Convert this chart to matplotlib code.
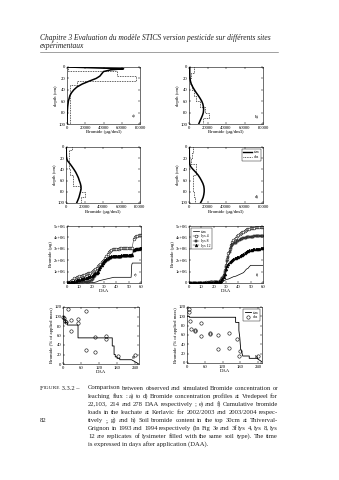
import numpy as np
import matplotlib.pyplot as plt
from matplotlib.lines import Line2D

plt.rcParams['font.family'] = ['Liberation Serif', 'DejaVu Serif']
plt.rcParams['xtick.direction'] = 'in'
plt.rcParams['ytick.direction'] = 'in'
plt.rcParams['xtick.top'] = True
plt.rcParams['ytick.right'] = True
plt.rcParams['xtick.major.size'] = 1.6
plt.rcParams['ytick.major.size'] = 1.6
plt.rcParams['xtick.major.width'] = 0.35
plt.rcParams['ytick.major.width'] = 0.35
plt.rcParams['xtick.major.pad'] = 1.2
plt.rcParams['ytick.major.pad'] = 1.2
plt.rcParams['axes.linewidth'] = 0.4
plt.rcParams['font.size'] = 3.4

W, H = 339, 480

# ---- Vredepeel profiles (22, 103, 214, 278 DAA) ----
depth_sim_a = [0, 2, 3, 5, 8, 12, 16, 20, 25, 30, 35, 40, 45, 50, 60, 70, 80, 90, 100]
conc_sim_a = [500, 40000, 62000, 48000, 40000, 38000, 36000, 32000, 24000, 16500, 11000, 7500, 5000, 3200, 1500, 700, 300, 150, 50]
edges_obs_a = [0, 7.5, 16, 24, 31, 100]
conc_obs_a = [1500, 54500, 76000, 11000, 3000]

depth_sim_b = [0, 10, 20, 25, 30, 35, 40, 45, 50, 55, 60, 65, 70, 75, 80, 85, 90, 95, 100]
conc_sim_b = [800, 800, 1000, 1600, 2500, 4000, 5800, 7800, 10000, 12000, 13800, 15000, 15600, 15800, 15500, 14500, 13200, 11800, 10500]
edges_obs_b = [0, 10, 20, 30, 40, 50, 60, 70, 80, 90, 100]
conc_obs_b = [5000, 2200, 1500, 3000, 5500, 8000, 11500, 17500, 22000, 15000]

depth_sim_c = [0, 10, 20, 25, 30, 35, 40, 45, 50, 55, 60, 65, 70, 75, 80, 85, 90, 95, 100]
conc_sim_c = [300, 300, 500, 1800, 4300, 6500, 8600, 10500, 12000, 13400, 14400, 15500, 16200, 16300, 15600, 14800, 14000, 12800, 11500]
edges_obs_c = [0, 5, 10, 20, 30, 40, 50, 60, 70, 80, 90, 100]
conc_obs_c = [7000, 2900, 2900, 2900, 3000, 4500, 7200, 7200, 15000, 20000, 16500]

depth_sim_d = [0, 10, 20, 30, 35, 40, 45, 50, 55, 60, 65, 70, 75, 80, 85, 90, 95, 100]
conc_sim_d = [300, 300, 400, 700, 1800, 4300, 7200, 9800, 11800, 13500, 15000, 16000, 16400, 16400, 16000, 15300, 14000, 12400]
edges_obs_d = [0, 10, 20, 30, 40, 50, 60, 70, 80, 90, 100]
conc_obs_d = [4500, 2800, 2500, 7200, 7200, 4500, 4300, 4300, 5000, 6000]

profile_xticks = [0, 20000, 40000, 60000, 80000]
profile_yticks = [0, 20, 40, 60, 80, 100]

# ---- Kerlavic cumulative loads (ug), daily from 0 to 60 DAA ----
daa_lys = list(range(61))
lys4_e = [0.0, 0.05, 0.1, 0.2, 0.25, 0.3, 0.4, 0.45, 0.5, 0.55,
          0.6, 0.62, 0.65, 0.68, 0.7, 0.75, 0.8, 0.85, 0.88, 0.9,
          0.95, 1.05, 1.15, 1.25, 1.35, 1.45, 1.55, 1.65, 1.8, 1.95,
          2.05, 2.2, 2.35, 2.55, 2.75, 2.85, 2.92, 2.97, 3.0, 3.0,
          3.01, 3.02, 3.02, 3.03, 3.03, 3.04, 3.05, 3.05, 3.06, 3.06,
          3.07, 3.07, 3.08, 3.1, 3.9, 4.05, 4.1, 4.15, 4.18, 4.2, 4.22]
lys8_e = [0.0, 0.0, 0.0, 0.01, 0.01, 0.02, 0.02, 0.03, 0.03, 0.04,
          0.04, 0.05, 0.05, 0.05, 0.06, 0.06, 0.07, 0.08, 0.1, 0.17,
          0.25, 0.37, 0.5, 0.65, 0.8, 0.97, 1.15, 1.32, 1.5, 1.63,
          1.75, 1.85, 1.95, 2.03, 2.1, 2.15, 2.2, 2.25, 2.28, 2.29,
          2.3, 2.31, 2.31, 2.32, 2.32, 2.33, 2.33, 2.34, 2.35, 2.35,
          2.36, 2.37, 2.38, 2.45, 2.8, 2.88, 2.93, 2.95, 2.97, 2.99, 3.0]
lys12_e = [0.0, 0.02, 0.05, 0.08, 0.1, 0.13, 0.17, 0.2, 0.24, 0.27,
           0.3, 0.33, 0.36, 0.39, 0.42, 0.45, 0.48, 0.52, 0.55, 0.58,
           0.6, 0.68, 0.76, 0.84, 0.92, 1.0, 1.2, 1.4, 1.6, 1.75,
           1.9, 2.02, 2.12, 2.2, 2.26, 2.31, 2.35, 2.37, 2.38, 2.39,
           2.4, 2.4, 2.41, 2.41, 2.42, 2.42, 2.43, 2.43, 2.44, 2.44,
           2.45, 2.45, 2.46, 2.5, 2.9, 2.95, 2.98, 3.0, 3.02, 3.04, 3.05]
sim_e_daa = [0, 18, 20, 22, 24, 26, 28, 30, 32, 34, 36, 38, 52, 52.5, 53, 60]
sim_e = [0.0, 0.0, 0.02, 0.05, 0.1, 0.2, 0.25, 0.3, 0.35, 0.4, 0.45, 0.5, 0.5, 1.6, 1.75, 1.75]

lys4_f = [0.0, 0.01, 0.01, 0.02, 0.02, 0.02, 0.03, 0.03, 0.03, 0.03,
          0.04, 0.04, 0.04, 0.04, 0.05, 0.05, 0.05, 0.05, 0.06, 0.06,
          0.06, 0.07, 0.07, 0.08, 0.1, 0.15, 0.3, 0.45, 0.7, 1.1,
          1.6, 2.1, 2.6, 3.0, 3.35, 3.6, 3.75, 3.85, 3.95, 4.1,
          4.2, 4.3, 4.4, 4.45, 4.5, 4.6, 4.65, 4.7, 4.75, 4.78,
          4.8, 4.82, 4.84, 4.86, 4.87, 4.88, 4.9, 4.91, 4.92, 4.94, 4.95]
lys8_f = [0.0, 0.0, 0.01, 0.01, 0.01, 0.02, 0.02, 0.02, 0.02, 0.03,
          0.03, 0.03, 0.03, 0.03, 0.04, 0.04, 0.04, 0.04, 0.05, 0.05,
          0.05, 0.05, 0.06, 0.07, 0.08, 0.12, 0.25, 0.4, 0.6, 0.95,
          1.4, 1.9, 2.3, 2.7, 3.05, 3.3, 3.4, 3.5, 3.55, 3.65,
          3.7, 3.78, 3.82, 3.88, 3.92, 3.95, 3.98, 4.0, 4.02, 4.03,
          4.05, 4.06, 4.07, 4.08, 4.08, 4.09, 4.1, 4.1, 4.11, 4.11, 4.12]
lys12_f = [0.0, 0.0, 0.0, 0.01, 0.01, 0.01, 0.01, 0.02, 0.02, 0.02,
           0.02, 0.02, 0.03, 0.03, 0.03, 0.03, 0.03, 0.04, 0.04, 0.04,
           0.04, 0.05, 0.05, 0.06, 0.07, 0.1, 0.2, 0.35, 0.5, 0.8,
           1.2, 1.5, 1.7, 1.85, 1.95, 2.05, 2.12, 2.18, 2.22, 2.27,
           2.3, 2.35, 2.42, 2.5, 2.58, 2.66, 2.72, 2.78, 2.83, 2.87,
           2.9, 2.93, 2.95, 2.97, 2.98, 3.0, 3.01, 3.02, 3.03, 3.04, 3.05]
sim_f_daa = [0, 25, 26, 28, 30, 32, 34, 36, 38, 40, 42, 44, 45, 46, 47, 48, 49, 50, 60]
sim_f = [0.0, 0.0, 0.05, 0.15, 0.3, 0.35, 0.45, 0.55, 0.6, 0.7, 0.8, 0.9, 1.0, 1.15, 1.25, 1.3, 1.45, 1.55, 1.55]

load_yticks = [0, 1e6, 2e6, 3e6, 4e6, 5e6]
load_yticklabels = ['0', '1e+06', '2e+06', '3e+06', '4e+06', '5e+06']
load_xticks = [0, 10, 20, 30, 40, 50, 60]

# ---- Thiverval-Grignon soil content (% of applied mass) ----
sim_g_daa = [0, 3, 3, 8, 8, 15, 15, 50, 50, 164, 164, 170, 170, 174, 174, 180, 180, 189, 189, 228, 250]
sim_g = [100, 100, 93, 93, 87, 87, 82, 82, 55, 55, 38, 38, 20, 20, 15, 15, 12, 12, 9, 9, 1]
obs_g_daa = [0, 3, 5, 11, 17, 28, 28, 50, 50, 75, 75, 105, 105, 142, 142, 183, 239]
obs_g = [100, 97, 91, 88, 116, 93, 69, 95, 86, 111, 30, 56, 26, 60, 53, 16, 18]

sim_h_daa = [0, 8, 8, 164, 164, 175, 175, 178, 181, 184, 188, 210, 210, 238, 238, 254]
sim_h = [100, 100, 98, 98, 87, 87, 70, 55, 30, 25, 15, 15, 10, 10, 9, 2]
obs_h_daa = [6, 6, 11, 14, 26, 26, 48, 48, 77, 77, 106, 106, 142, 142, 170, 174, 180, 241]
obs_h = [116, 110, 90, 73, 69, 71, 85, 58, 65, 62, 60, 31, 65, 33, 52, 15, 25, 15]

pct_xticks = [0, 60, 120, 180, 240]
pct_yticks = [0, 20, 40, 60, 80, 100, 120]

header_lines = ['Chapitre 3 Evaluation du modèle STICS version pesticide sur différents sites',
                'expérimentaux']
caption_lines = [
    'Comparison between observed and simulated Bromide concentration or',
    'leaching flux : a) to d) Bromide concentration profiles at Vredepeel for',
    '22,103, 214 and 278 DAA respectively ; e) and f) Cumulative bromide',
    'loads in the leachate at Kerlavic for 2002/2003 and 2003/2004 respec-',
    'tively ;. g) and h) Soil bromide content in the top 30cm at Thiverval-',
    'Grignon in 1993 and 1994 respectively (In Fig 3e and 3f lys 4, lys 8, lys',
    '12 are replicates of lysimeter filled with the same soil type). The time',
    'is expressed in days after application (DAA).',
]

fig = plt.figure(figsize=(W / 100, H / 100), dpi=100)
renderer = fig.canvas.get_renderer()


def text_width(s, fs, **kw):
    t = fig.text(0, 0, s, fontsize=fs, **kw)
    w = t.get_window_extent(renderer).width
    t.remove()
    return w


def add_ax(x0, x1, y0, y1):
    return fig.add_axes([x0 / W, 1 - y1 / H, (x1 - x0) / W, (y1 - y0) / H])


def profile(ax, depth_sim, conc_sim, edges, conc_obs, tag):
    ax.plot(conc_sim, depth_sim, color='k', lw=1.1)
    ax.plot(np.repeat(conc_obs, 2), np.repeat(edges, 2)[1:-1],
            color='k', lw=0.55, ls=(0, (1, 1.2)))
    ax.set_xlim(0, 80000)
    ax.set_ylim(100, 0)
    ax.set_xticks(profile_xticks)
    ax.set_yticks(profile_yticks)
    ax.set_xlabel('Bromide (µg/dm3)', labelpad=0.6)
    ax.set_ylabel('depth (cm)', labelpad=0.6)
    if tag:
        ax.text(0.92, 0.13, tag, transform=ax.transAxes, ha='center', va='center')


ax_a = add_ax(67, 140, 67, 124)
profile(ax_a, depth_sim_a, conc_sim_a, edges_obs_a, conc_obs_a, 'a)')
ax_b = add_ax(189, 263, 67, 124)
profile(ax_b, depth_sim_b, conc_sim_b, edges_obs_b, conc_obs_b, 'b)')
ax_c = add_ax(66, 140, 147, 203)
profile(ax_c, depth_sim_c, conc_sim_c, edges_obs_c, conc_obs_c, '')
ax_d = add_ax(189, 263, 147, 203)
profile(ax_d, depth_sim_d, conc_sim_d, edges_obs_d, conc_obs_d, 'd)')
ax_d.legend(handles=[Line2D([], [], color='k', lw=1.0, label='sim'),
                     Line2D([], [], color='k', lw=0.55, ls=(0, (1, 1.2)), label='obs')],
            loc='upper right', fontsize=2.8, handlelength=2.2, borderpad=0.4,
            labelspacing=0.2, handletextpad=0.5, fancybox=False, edgecolor='k',
            framealpha=1).get_frame().set_linewidth(0.3)


def loads(ax, l4, l8, l12, sdaa, s, tag):
    ax.plot(sdaa, np.array(s) * 1e6, color='k', lw=0.5)
    kw = dict(color='k', lw=0.3, ms=2.0, mew=0.35)
    ax.plot(daa_lys, np.array(l4) * 1e6, marker='o', mfc='white', **kw)
    ax.plot(daa_lys, np.array(l8) * 1e6, marker='s', mfc='0.45', ms=1.7, color='k', lw=0.3, mew=0.35)
    ax.plot(daa_lys, np.array(l12) * 1e6, marker='^', mfc='k', **kw)
    ax.set_xlim(0, 60)
    ax.set_ylim(0, 5e6)
    ax.set_xticks(load_xticks)
    ax.set_yticks(load_yticks)
    ax.set_yticklabels(load_yticklabels)
    ax.set_xlabel('DAA', labelpad=0.6)
    ax.set_ylabel('Bromide (µg)', labelpad=0.6)
    ax.text(0.93, 0.13, tag, transform=ax.transAxes, ha='center', va='center')


ax_e = add_ax(67, 141, 226, 283)
loads(ax_e, lys4_e, lys8_e, lys12_e, sim_e_daa, sim_e, 'e)')
ax_f = add_ax(189, 263, 226, 283)
loads(ax_f, lys4_f, lys8_f, lys12_f, sim_f_daa, sim_f, 'f)')
ax_f.legend(handles=[Line2D([], [], color='k', lw=0.5, label='sim'),
                     Line2D([], [], color='k', lw=0.3, marker='o', mfc='white', ms=2.0, mew=0.35, label='lys 4'),
                     Line2D([], [], color='k', lw=0.3, marker='s', mfc='0.45', ms=1.7, mew=0.35, label='lys 8'),
                     Line2D([], [], color='k', lw=0.3, marker='^', mfc='k', ms=2.0, mew=0.35, label='lys 12')],
            loc='upper left', fontsize=2.8, handlelength=1.6, borderpad=0.4,
            labelspacing=0.2, handletextpad=0.5, fancybox=False, edgecolor='k',
            framealpha=1).get_frame().set_linewidth(0.3)


def soil(ax, sdaa, s, odaa, o, tag):
    ax.plot(sdaa, s, color='k', lw=0.6)
    ax.plot(odaa, o, ls='none', marker='o', mfc='none', mec='k', ms=2.4, mew=0.4, clip_on=False)
    ax.set_xlim(0, 253)
    ax.set_ylim(0, 120)
    ax.set_xticks(pct_xticks)
    ax.set_yticks(pct_yticks)
    ax.set_xlabel('DAA', labelpad=0.4)
    ax.set_ylabel('Bromide (% of applied mass)', labelpad=0.6)
    ax.text(0.93, 0.13, tag, transform=ax.transAxes, ha='center', va='center')


ax_g = add_ax(63, 139, 307, 364)
soil(ax_g, sim_g_daa, sim_g, obs_g_daa, obs_g, 'g)')
ax_h = add_ax(187, 262, 307, 363)
soil(ax_h, sim_h_daa, sim_h, obs_h_daa, obs_h, 'h)')
ax_h.legend(handles=[Line2D([], [], color='k', lw=0.6, label='sim'),
                     Line2D([], [], ls='none', marker='o', mfc='none', mec='k', ms=2.4, mew=0.4, label='obs')],
            loc='upper right', fontsize=2.8, handlelength=1.6, borderpad=0.4,
            labelspacing=0.2, handletextpad=0.5, fancybox=False, edgecolor='k',
            framealpha=1).get_frame().set_linewidth(0.3)

ink = '0.12'

# ---- page header, sized so the first line runs from x=40 to x=268 ----
head_fs = 4.0 * 228 / text_width(header_lines[0], 4.0, style='italic')
for i, line in enumerate(header_lines):
    fig.text(40 / W, 1 - (38 + 8.5 * i) / H, line, fontsize=head_fs, style='italic',
             va='center', color=ink)
fig.add_artist(Line2D([40 / W, 278 / W], [1 - 51.5 / H, 1 - 51.5 / H], color='0.35', lw=0.4))

# ---- caption, justified between x=88 and x=278 ----
cap_x0, cap_x1 = 88, 278
cap_y0, cap_dy = 388, 8.05
min_gap = 1.3
fits = []
for line in caption_lines[:-1]:
    words = line.split(' ')
    ink_w = sum(text_width(w, 4.0) for w in words)
    fits.append(4.0 * (cap_x1 - cap_x0 - min_gap * (len(words) - 1)) / ink_w)
cap_fs = min(min(fits), 5.0)

for i, line in enumerate(caption_lines):
    y = 1 - (cap_y0 + i * cap_dy) / H
    if i == len(caption_lines) - 1:
        fig.text(cap_x0 / W, y, line, fontsize=cap_fs, va='center', color=ink)
        continue
    words = line.split(' ')
    widths = [text_width(w, cap_fs) for w in words]
    gap = (cap_x1 - cap_x0 - sum(widths)) / (len(words) - 1)
    x = cap_x0
    for w, wd in zip(words, widths):
        fig.text(x / W, y, w, fontsize=cap_fs, va='center', color=ink)
        x += wd + gap

# small-caps figure tag
fx = 40
for part, scale in [('F', 1.0), ('IGURE', 0.8), (' 3.3.2 –', 1.0)]:
    fig.text(fx / W, 1 - cap_y0 / H, part, fontsize=cap_fs * scale, va='center', color=ink)
    fx += text_width(part, cap_fs * scale)

fig.text(40 / W, 1 - 421 / H, '82', fontsize=cap_fs, va='center', color=ink)

fig.savefig('out.png', dpi=100, facecolor='white')
